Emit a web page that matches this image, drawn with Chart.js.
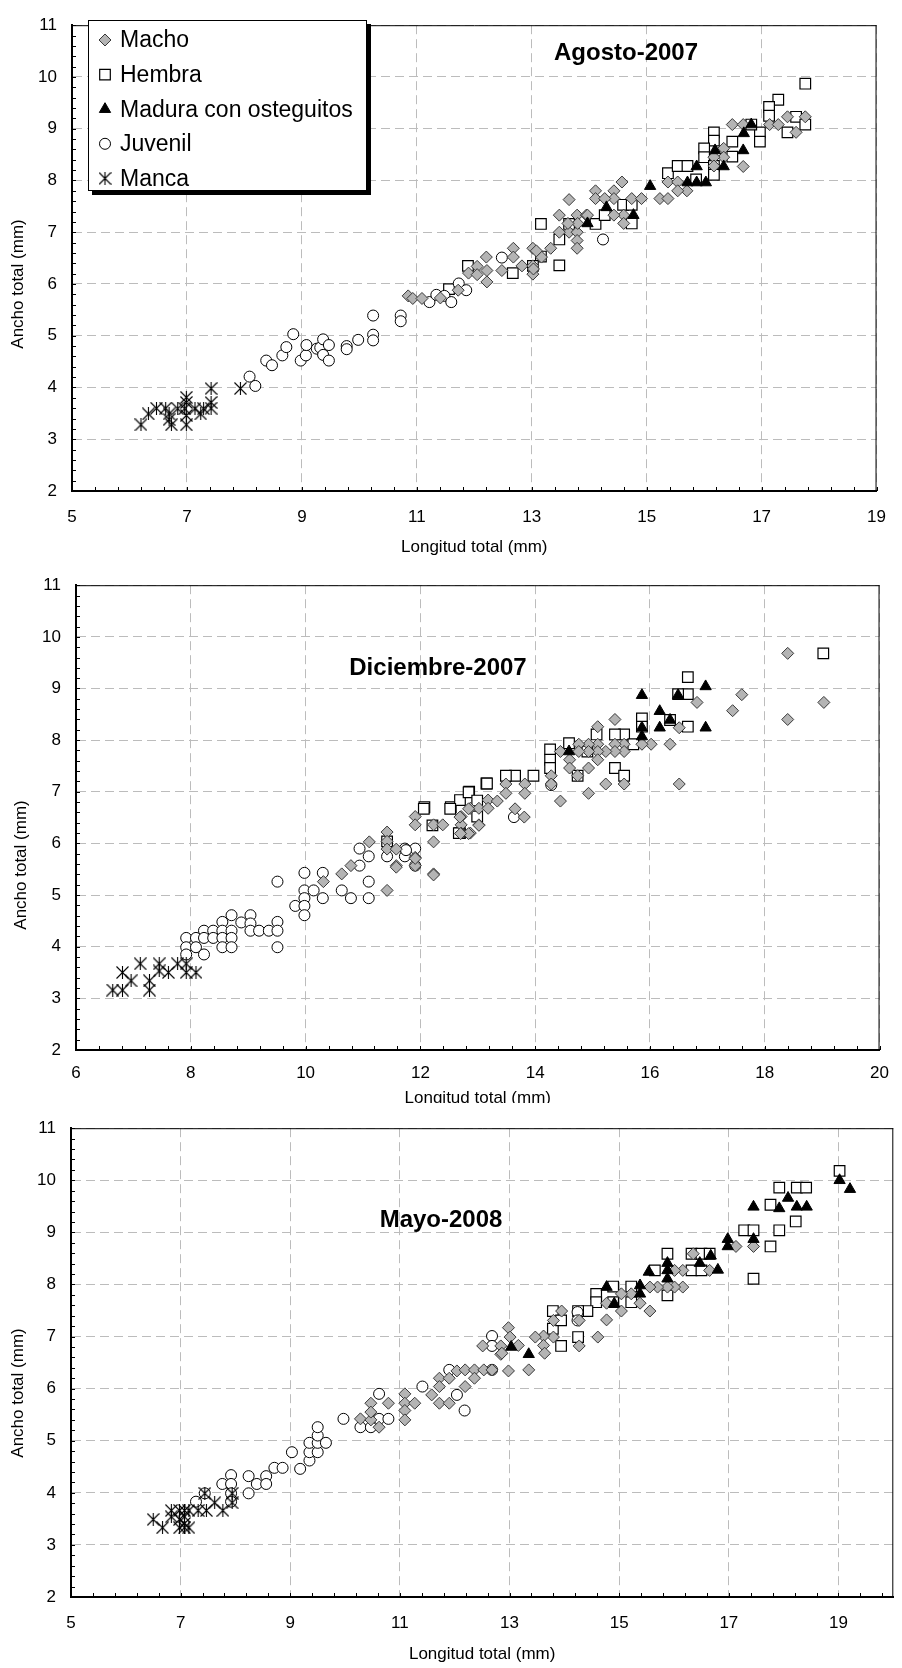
<!DOCTYPE html>
<html>
<head>
<meta charset="utf-8">
<title>Ancho vs longitud total</title>
<script src="https://cdn.jsdelivr.net/npm/chart.js@4.4.0/dist/chart.umd.min.js"></script>
<style>
  html, body { margin: 0; padding: 0; background: #fff; }
  body { width: 902px; height: 1668px; position: relative; overflow: hidden; }
  .panel { position: absolute; left: 0; width: 902px; background: #fff; }
</style>
</head>
<body>
<div class="panel" style="top:0;height:560px"><canvas id="c1" width="902" height="560"></canvas></div>
<div class="panel" style="top:560px;height:550px"><canvas id="c2" width="902" height="550"></canvas></div>
<div class="panel" style="top:1103px;height:565px"><canvas id="c3" width="902" height="565"></canvas></div>
<script>
// [longitud total, ancho total] in mm

// Agosto 2007
const agoMacho = [
  [10.85, 5.77], [10.93, 5.72], [11.09, 5.72], [11.41, 5.73], [11.72, 5.88], [11.90, 6.21], [12.05, 6.34],
  [12.21, 6.52], [12.22, 6.26], [12.22, 6.04], [12.05, 6.18], [12.48, 6.26], [12.68, 6.69], [12.68, 6.52],
  [12.83, 6.35], [13.02, 6.69], [13.02, 6.35], [13.02, 6.19], [13.17, 6.52], [13.33, 6.69], [13.48, 7.33],
  [13.65, 7.63], [13.65, 7.00], [13.79, 7.33], [13.79, 7.00], [13.79, 6.84], [13.79, 6.69], [13.48, 7.00],
  [13.95, 7.33], [14.11, 7.80], [16.49, 9.08], [16.68, 9.08], [17.14, 9.08], [17.29, 9.08], [17.45, 9.23],
  [17.76, 9.23], [17.60, 8.93], [16.68, 8.27], [16.34, 8.62], [16.34, 8.45], [16.17, 8.45], [16.17, 8.28],
  [15.37, 7.97], [15.54, 7.97], [15.70, 7.80], [15.54, 7.80], [15.23, 7.65], [15.37, 7.65], [14.57, 7.97],
  [14.11, 7.65], [14.43, 7.80], [14.43, 7.65], [14.27, 7.65], [14.74, 7.65], [14.91, 7.65], [14.60, 7.33],
  [14.60, 7.17], [14.43, 7.33], [13.97, 7.33], [13.80, 7.17], [13.63, 7.17], [13.08, 6.64], [13.03, 6.29]
];
const agoHembra = [
  [11.89, 6.35], [11.56, 5.90], [12.67, 6.21], [13.16, 7.16], [13.48, 6.86], [13.48, 6.36], [13.16, 6.53],
  [13.02, 6.35], [13.65, 7.16], [14.11, 7.16], [17.76, 9.87], [17.29, 9.56], [17.13, 9.42], [17.13, 9.25],
  [17.60, 9.23], [17.76, 9.08], [17.45, 8.93], [16.97, 8.93], [16.97, 8.75], [16.82, 9.08], [16.49, 8.75],
  [16.17, 8.93], [16.17, 8.77], [16.00, 8.62], [16.00, 8.45], [16.17, 8.28], [16.17, 8.11], [16.49, 8.46],
  [15.37, 8.14], [15.54, 8.28], [15.71, 8.28], [15.86, 8.02], [14.59, 7.53], [14.74, 7.53], [14.27, 7.33],
  [14.74, 7.17]
];
const agoMadura = [
  [16.82, 9.08], [16.69, 8.91], [16.68, 8.58], [16.19, 8.58], [16.34, 8.27], [15.87, 8.27], [15.71, 7.96],
  [15.87, 7.96], [16.03, 7.96], [15.06, 7.89], [14.30, 7.48], [14.77, 7.33], [13.97, 7.17]
];
const agoJuvenil = [
  [8.09, 4.21], [8.19, 4.03], [8.38, 4.52], [8.48, 4.43], [8.66, 4.62], [8.73, 4.78], [8.85, 5.03],
  [8.98, 4.52], [9.07, 4.62], [9.08, 4.82], [9.26, 4.75], [9.32, 4.77], [9.37, 4.93], [9.37, 4.63],
  [9.47, 4.82], [9.47, 4.52], [9.78, 4.80], [9.78, 4.74], [9.98, 4.92], [10.24, 5.39], [10.24, 5.02],
  [10.24, 4.91], [10.72, 5.39], [10.72, 5.28], [11.22, 5.65], [11.34, 5.79], [11.48, 5.77], [11.60, 5.65],
  [11.73, 6.01], [11.86, 5.88], [12.48, 6.51], [14.24, 6.86]
];
const agoManca = [
  [6.20, 3.28], [6.33, 3.49], [6.47, 3.60], [6.63, 3.60], [6.69, 3.49], [6.73, 3.28], [6.69, 3.38],
  [6.84, 3.59], [6.96, 3.59], [6.99, 3.81], [6.99, 3.71], [6.99, 3.46], [6.99, 3.28], [7.14, 3.59],
  [7.24, 3.49], [7.29, 3.59], [7.42, 3.60], [7.42, 3.71], [7.42, 3.98], [7.93, 3.98]
];

// Diciembre 2007
const dicMacho = [
  [10.31, 5.26], [10.63, 5.41], [10.79, 5.57], [11.11, 6.03], [11.42, 6.22], [11.42, 6.04], [11.42, 5.89],
  [11.58, 5.89], [11.58, 5.57], [11.42, 5.09], [11.91, 6.52], [11.91, 6.36], [11.91, 5.73], [11.91, 5.57],
  [12.23, 6.03], [12.23, 5.41], [12.23, 6.36], [12.39, 6.36], [12.71, 6.52], [12.71, 6.36], [12.71, 6.20],
  [12.87, 6.20], [13.02, 6.36], [12.87, 6.68], [13.02, 6.68], [13.18, 6.84], [13.18, 6.68],
  [18.40, 9.68], [19.03, 8.73], [18.40, 8.40], [17.60, 8.88], [17.44, 8.57], [16.82, 8.73], [16.51, 8.24],
  [16.51, 7.15], [16.35, 7.92], [16.02, 7.92], [15.86, 7.92], [15.39, 8.40], [15.09, 8.26], [15.55, 7.92],
  [15.55, 7.78], [15.55, 7.15], [15.39, 7.92], [15.39, 7.78], [15.23, 7.78], [15.09, 7.92], [15.09, 7.78],
  [15.09, 7.62], [14.93, 7.92], [14.93, 7.78], [14.93, 7.46], [14.93, 6.97], [15.23, 7.15], [14.76, 7.92],
  [14.76, 7.78], [14.60, 7.62], [14.60, 7.46], [14.44, 7.78], [14.44, 6.82], [14.74, 7.31], [14.28, 7.31],
  [14.28, 7.15], [13.82, 7.15], [13.82, 6.97], [13.65, 6.67], [13.49, 7.15], [13.49, 6.97], [13.34, 6.82],
  [13.02, 6.35], [12.84, 6.67], [12.84, 6.19], [12.70, 6.19], [12.69, 6.51], [12.23, 5.39], [11.58, 5.54],
  [11.91, 5.71], [13.81, 6.51]
];
const dicHembra = [
  [12.07, 6.70], [12.53, 6.70], [12.69, 6.84], [12.85, 7.00], [12.69, 6.20], [12.99, 6.52], [13.15, 7.16],
  [11.42, 6.04], [19.02, 9.68], [16.66, 9.22], [16.66, 8.89], [16.49, 8.89], [16.66, 8.26], [16.35, 8.39],
  [15.86, 8.42], [15.86, 8.26], [15.55, 8.11], [15.39, 8.11], [15.71, 7.92], [15.07, 8.11], [14.91, 7.78],
  [14.59, 7.94], [14.26, 7.82], [14.26, 7.62], [14.26, 7.46], [15.39, 7.46], [15.55, 7.31], [14.74, 7.31],
  [13.97, 7.31], [13.65, 7.31], [13.49, 7.31], [13.16, 7.16], [12.84, 6.99], [12.99, 6.83], [12.06, 6.67],
  [12.52, 6.67], [12.21, 6.35], [12.67, 6.20]
];
const dicMadura = [
  [16.97, 9.04], [15.86, 8.87], [16.49, 8.87], [16.17, 8.56], [16.35, 8.39], [16.17, 8.24], [16.97, 8.24],
  [15.86, 8.24], [15.86, 8.07], [14.59, 7.78]
];
const dicJuvenil = [
  [7.92, 4.17], [7.92, 3.99], [7.92, 3.85], [8.09, 4.17], [8.09, 3.99], [8.23, 4.31], [8.23, 4.17],
  [8.23, 3.85], [8.39, 4.31], [8.39, 4.17], [8.55, 4.48], [8.55, 4.31], [8.55, 4.17], [8.55, 3.99],
  [8.71, 4.61], [8.71, 4.31], [8.71, 4.17], [8.71, 3.99], [8.88, 4.47], [9.04, 4.61], [9.04, 4.45],
  [9.04, 4.31], [9.19, 4.31], [9.36, 4.31], [9.51, 4.48], [9.51, 4.31], [9.51, 3.99], [9.51, 5.26],
  [9.82, 4.79], [9.98, 5.43], [9.98, 5.09], [9.98, 4.94], [9.98, 4.79], [9.98, 4.61], [10.14, 5.09],
  [10.30, 5.43], [10.30, 4.94], [10.63, 5.09], [10.79, 4.94], [10.94, 5.90], [10.94, 5.57], [11.10, 5.75],
  [11.10, 5.26], [11.10, 4.94], [11.42, 5.75], [11.73, 5.90], [11.73, 5.75], [11.91, 5.90], [11.91, 5.57],
  [13.63, 6.51], [11.75, 5.87], [14.28, 7.13]
];
const dicManca = [
  [6.64, 3.16], [6.81, 3.16], [6.81, 3.50], [6.96, 3.34], [7.12, 3.67], [7.28, 3.16], [7.28, 3.34],
  [7.45, 3.67], [7.45, 3.53], [7.61, 3.50], [7.77, 3.67], [7.92, 3.67], [7.92, 3.50], [8.09, 3.50]
];

// Mayo 2008
const mayMacho = [
  [10.28, 5.42], [10.47, 5.40], [10.62, 5.26], [10.47, 5.72], [10.47, 5.55], [10.79, 5.72], [11.09, 5.90],
  [11.09, 5.72], [11.09, 5.58], [11.09, 5.40], [11.27, 5.72], [11.58, 5.88], [11.72, 6.20], [11.72, 6.04],
  [11.72, 5.72], [11.90, 5.72], [11.90, 6.20], [12.04, 6.34], [12.19, 6.36], [12.19, 6.04], [12.36, 6.36],
  [12.36, 6.20], [12.53, 6.36], [12.51, 6.82], [12.84, 6.82], [12.84, 6.66], [12.98, 7.17], [12.98, 6.34],
  [17.13, 8.73], [17.45, 8.73], [16.35, 8.59], [16.65, 8.27], [16.16, 8.27], [16.01, 8.27], [16.16, 7.95],
  [16.01, 7.95], [15.88, 7.95], [15.70, 7.95], [15.56, 7.95], [15.56, 7.49], [15.38, 7.64], [15.22, 7.82],
  [15.04, 7.82], [15.04, 7.49], [14.77, 7.32], [14.77, 7.64], [14.61, 6.99], [14.27, 7.31], [14.27, 6.82],
  [13.95, 7.49], [13.80, 7.31], [13.80, 6.99], [13.62, 7.01], [13.62, 6.83], [13.64, 6.68], [13.47, 6.99],
  [13.35, 6.36], [13.16, 6.83], [13.01, 6.99], [12.86, 6.68], [12.68, 6.36]
];
const mayHembra = [
  [19.02, 10.18], [17.92, 9.86], [18.24, 9.86], [18.41, 9.86], [17.76, 9.53], [18.22, 9.21], [17.92, 9.04],
  [17.28, 9.04], [17.45, 9.04], [17.76, 8.73], [17.45, 8.11], [15.88, 8.59], [16.32, 8.59], [16.50, 8.59],
  [16.65, 8.59], [16.32, 8.27], [16.50, 8.27], [15.88, 7.79], [15.65, 8.27], [15.22, 7.96], [14.89, 7.96],
  [14.58, 7.82], [14.58, 7.66], [14.89, 7.66], [15.22, 7.66], [14.42, 7.49], [14.25, 7.49], [13.79, 7.49],
  [13.79, 7.15], [13.94, 6.82], [14.25, 6.99], [13.94, 7.31]
];
const mayMadura = [
  [19.02, 10.00], [19.21, 9.83], [17.45, 9.49], [18.08, 9.66], [17.92, 9.46], [18.24, 9.49], [18.42, 9.49],
  [17.45, 8.87], [16.98, 8.87], [16.98, 8.73], [16.67, 8.55], [16.80, 8.28], [16.47, 8.41], [15.88, 8.41],
  [15.88, 8.27], [15.88, 8.11], [15.54, 8.24], [15.38, 7.98], [15.38, 7.82], [14.77, 7.95], [14.91, 7.63],
  [13.35, 6.66], [13.03, 6.80]
];
const mayJuvenil = [
  [7.28, 3.83], [7.44, 3.99], [7.76, 4.17], [7.92, 4.34], [7.92, 4.17], [7.92, 3.99], [7.92, 3.83],
  [8.24, 4.32], [8.24, 3.99], [8.39, 4.17], [8.56, 4.32], [8.56, 4.17], [8.71, 4.48], [8.86, 4.48],
  [9.03, 4.78], [9.18, 4.46], [9.35, 4.62], [9.35, 4.78], [9.35, 4.96], [9.50, 4.78], [9.50, 4.96],
  [9.50, 5.10], [9.50, 5.26], [9.65, 4.96], [9.97, 5.42], [10.28, 5.26], [10.47, 5.26], [10.62, 5.42],
  [10.79, 5.42], [10.62, 5.90], [11.41, 6.04], [11.90, 6.36], [12.04, 5.88], [12.18, 5.58], [12.68, 7.01],
  [12.68, 6.82], [12.68, 6.36], [14.24, 7.47], [14.24, 7.31]
];
const mayManca = [
  [6.50, 3.49], [6.67, 3.33], [6.83, 3.66], [6.83, 3.54], [6.98, 3.66], [6.98, 3.49], [6.98, 3.33],
  [7.07, 3.66], [7.07, 3.54], [7.07, 3.41], [7.07, 3.33], [7.15, 3.66], [7.15, 3.33], [7.32, 3.66],
  [7.47, 3.66], [7.44, 3.99], [7.62, 3.81], [7.77, 3.66], [7.94, 3.81], [7.94, 3.99]
];

const seriesNames = ['Macho', 'Hembra', 'Madura con osteguitos', 'Juvenil', 'Manca'];
const xTicksAgo = [5, 7, 9, 11, 13, 15, 17, 19];
const xTicksDic = [6, 8, 10, 12, 14, 16, 18, 20];
const xTicksMay = [5, 7, 9, 11, 13, 15, 17, 19];
const yTicks = [2, 3, 4, 5, 6, 7, 8, 9, 10, 11];

const FONT = '"Liberation Sans", Arial, Helvetica, sans-serif';
Chart.defaults.font.family = FONT;
Chart.defaults.color = '#000';

// Excel-like asterisk marker: an X with a vertical stroke
function asterisk(size) {
  const c = document.createElement('canvas');
  c.width = c.height = size;
  const g = c.getContext('2d');
  g.strokeStyle = '#000';
  g.lineWidth = 1.1;
  g.beginPath();
  g.moveTo(0.5, 0.5); g.lineTo(size - 0.5, size - 0.5);
  g.moveTo(size - 0.5, 0.5); g.lineTo(0.5, size - 0.5);
  g.moveTo(size / 2, 0); g.lineTo(size / 2, size);
  g.stroke();
  return c;
}

// one entry per series, same order as seriesNames; lower `order` is drawn on top
const markers = [
  { pointStyle: 'rectRot', radius: 6, fill: '#b4b4b4', stroke: '#383838', width: 1, order: 1 },
  { pointStyle: 'rect', radius: 7.5, fill: '#ffffff', stroke: '#000000', width: 1.2, order: 4 },
  { pointStyle: 'triangle', radius: 6.5, fill: '#000000', stroke: '#000000', width: 1, order: 0 },
  { pointStyle: 'circle', radius: 5.5, fill: '#ffffff', stroke: '#000000', width: 1, order: 3 },
  { pointStyle: asterisk(13), radius: 6, fill: '#000000', stroke: '#000000', width: 1, order: 2 }
];

// minor tick marks inside the axes, the thin frame on top and right,
// and the vertical axis title (placed per panel)
const frame = {
  id: 'frame',
  afterDraw(chart, args, opts) {
    const { ctx, chartArea: a, scales: { x, y } } = chart;
    ctx.save();
    ctx.strokeStyle = '#000';
    ctx.lineWidth = 1;
    ctx.beginPath();
    const nx = Math.round((x.max - x.min) / 0.4);
    for (let i = 0; i <= nx; i++) {
      const px = Math.round(x.getPixelForValue(x.min + i * 0.4)) + 0.5;
      ctx.moveTo(px, a.bottom);
      ctx.lineTo(px, a.bottom - 4);
    }
    const ny = Math.round((y.max - y.min) / 0.2);
    for (let i = 0; i <= ny; i++) {
      const py = Math.round(y.getPixelForValue(y.min + i * 0.2)) + 0.5;
      ctx.moveTo(a.left, py);
      ctx.lineTo(a.left + 4, py);
    }
    ctx.moveTo(a.left, a.top + 0.5);
    ctx.lineTo(a.right, a.top + 0.5);
    ctx.moveTo(a.right - 0.5, a.top);
    ctx.lineTo(a.right - 0.5, a.bottom);
    ctx.stroke();

    ctx.translate(opts.yTitleX, opts.yTitleY);
    ctx.rotate(-Math.PI / 2);
    ctx.font = '17px ' + FONT;
    ctx.fillStyle = '#000';
    ctx.textAlign = 'center';
    ctx.textBaseline = 'middle';
    ctx.fillText('Ancho total (mm)', 0, 0);
    ctx.restore();
  }
};

// bold sampling date inside the plot
const dateLabel = {
  id: 'dateLabel',
  afterDatasetsDraw(chart, args, opts) {
    const { ctx } = chart;
    ctx.save();
    ctx.font = 'bold 24px ' + FONT;
    ctx.fillStyle = '#000';
    ctx.textAlign = 'center';
    ctx.textBaseline = 'middle';
    ctx.fillText(opts.text, opts.x, opts.y);
    ctx.restore();
  }
};

// boxed legend with a drop shadow, top-left of the first panel
const boxLegend = {
  id: 'boxLegend',
  afterDraw(chart, args, opts) {
    if (!opts.show) return;
    const { ctx } = chart;
    const lx = 88, ly = 20, lw = 279, lh = 171;
    ctx.save();
    ctx.fillStyle = '#000';
    ctx.fillRect(lx + 4, ly + 4, lw, lh);
    ctx.fillStyle = '#fff';
    ctx.fillRect(lx, ly, lw, lh);
    ctx.strokeStyle = '#000';
    ctx.lineWidth = 1;
    ctx.strokeRect(lx + 0.5, ly + 0.5, lw - 1, lh - 1);
    ctx.font = '23px ' + FONT;
    ctx.textBaseline = 'middle';
    seriesNames.forEach((name, i) => {
      const m = markers[i];
      const cy = 40 + i * 34.6;
      ctx.fillStyle = m.fill;
      ctx.strokeStyle = m.stroke;
      ctx.lineWidth = m.width;
      Chart.helpers.drawPoint(ctx, { pointStyle: m.pointStyle, radius: m.radius, borderWidth: m.width, rotation: 0 }, 105, cy);
      ctx.fillStyle = '#000';
      ctx.fillText(name, 120, cy + 1);
    });
    ctx.restore();
  }
};

function panel(id, cfg) {
  const canvas = document.getElementById(id);
  const h = canvas.height;
  const sets = [cfg.macho, cfg.hembra, cfg.madura, cfg.juvenil, cfg.manca];
  const datasets = sets.map((pts, i) => ({
    label: seriesNames[i],
    data: pts.map(p => ({ x: p[0], y: p[1] })),
    showLine: false,
    order: markers[i].order,
    pointStyle: markers[i].pointStyle,
    pointRadius: markers[i].radius,
    pointBackgroundColor: markers[i].fill,
    pointBorderColor: markers[i].stroke,
    pointBorderWidth: markers[i].width
  }));
  const grid = { color: '#bcbcbc', lineWidth: 1, drawTicks: false };
  const border = { color: '#000', width: 2, dash: [9, 5] };
  return new Chart(canvas, {
    type: 'scatter',
    data: { datasets },
    options: {
      responsive: false,
      animation: false,
      events: [],
      layout: { padding: { top: cfg.area.top, right: 902 - cfg.area.right, left: 0, bottom: 0 } },
      scales: {
        x: {
          type: 'linear',
          min: cfg.xMin,
          max: cfg.xMax,
          grid, border,
          afterBuildTicks: s => { s.ticks = cfg.xTicks.map(v => ({ value: v })); },
          afterFit: s => { s.height = h - cfg.area.bottom; },
          ticks: { font: { size: 17 }, color: '#000', padding: cfg.xPad, maxRotation: 0, autoSkip: false },
          title: { display: true, text: 'Longitud total (mm)', font: { size: 17 }, color: '#000', padding: { top: 0, bottom: cfg.xTitlePad } }
        },
        y: {
          type: 'linear',
          min: 2,
          max: 11,
          grid, border,
          afterBuildTicks: s => { s.ticks = yTicks.map(v => ({ value: v })); },
          afterFit: s => { s.width = cfg.area.left; },
          ticks: { font: { size: 17 }, color: '#000', padding: 15 }
        }
      },
      plugins: {
        legend: { display: false },
        tooltip: { enabled: false },
        frame: cfg.yTitle,
        dateLabel: cfg.label,
        boxLegend: { show: !!cfg.legend }
      }
    },
    plugins: [frame, dateLabel, boxLegend]
  });
}

panel('c1', {
  macho: agoMacho, hembra: agoHembra, madura: agoMadura, juvenil: agoJuvenil, manca: agoManca,
  xMin: 5, xMax: 19, xTicks: xTicksAgo,
  area: { left: 72, right: 888, top: 14, bottom: 491 },
  xPad: 16, xTitlePad: 2,
  yTitle: { yTitleX: 18, yTitleY: 284 },
  label: { text: 'Agosto-2007', x: 626, y: 53 },
  legend: true
});

panel('c2', {
  macho: dicMacho, hembra: dicHembra, madura: dicMadura, juvenil: dicJuvenil, manca: dicManca,
  xMin: 6, xMax: 20, xTicks: xTicksDic,
  area: { left: 76, right: 885, top: 19, bottom: 490 },
  xPad: 13, xTitlePad: 1,
  yTitle: { yTitleX: 21, yTitleY: 305 },
  label: { text: 'Diciembre-2007', x: 438, y: 108 }
});

panel('c3', {
  macho: mayMacho, hembra: mayHembra, madura: mayMadura, juvenil: mayJuvenil, manca: mayManca,
  xMin: 5, xMax: 20, xTicks: xTicksMay,
  area: { left: 71, right: 896, top: 24, bottom: 494 },
  xPad: 16, xTitlePad: 3,
  yTitle: { yTitleX: 18, yTitleY: 290 },
  label: { text: 'Mayo-2008', x: 441, y: 117 }
});
</script>
</body>
</html>
